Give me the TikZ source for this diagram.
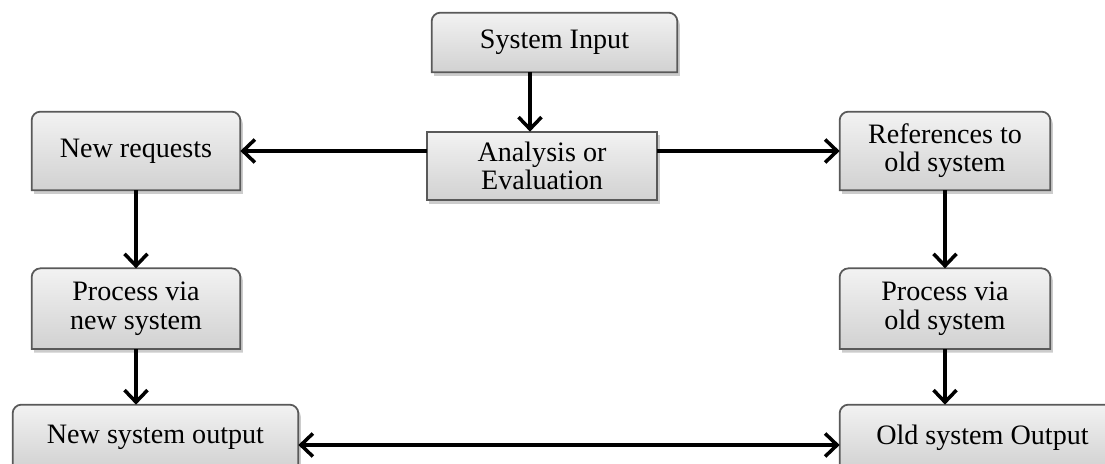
\documentclass[tikz,border=0pt]{standalone}
\usepackage{fontspec}
\setmainfont{Liberation Serif}
\usetikzlibrary{positioning}
\usetikzlibrary{arrows.meta}
\usetikzlibrary{backgrounds}
\tikzset{%
    block/.style={rectangle, align=center, inner sep=0pt, font=\fontsize{16}{16}\selectfont},
    boxfill/.style={top color=gray!10, bottom color=gray!36, draw=black!65, line width=1pt},
    boxshadow/.style={fill=black!40, opacity=0.5, transform canvas={xshift=0.5mm, yshift=-0.7mm}},
    arrow/.style={draw, line width=2pt, -{Straight Barb[length=2.4mm, width=4.6mm]}},
    twoway/.style={draw, line width=2pt, {Straight Barb[length=2.4mm, width=4.6mm]}-{Straight Barb[length=2.4mm, width=4.6mm]}}
}

\begin{document}
\begin{tikzpicture}
		\useasboundingbox (0,0) rectangle (22.1,-9.28);

		\node[block, minimum width=4.9cm,  minimum height=1.18cm]	(sysin)		at (11.09,-0.85)	{System Input};
		\node[block, minimum width=4.6cm,  minimum height=1.36cm]	(analysis)	at (10.84,-3.32)	{Analysis or\\Evaluation};
		\node[block, minimum width=4.16cm, minimum height=1.56cm]	(newreq)	at (2.72,-3.02)		{New requests};
		\node[block, minimum width=4.2cm,  minimum height=1.56cm]	(refold)	at (18.9,-3.02)		{References to\\old system};
		\node[block, minimum width=4.16cm, minimum height=1.6cm]	(procnew)	[below=1.56 of newreq]	{Process via\\new system};
		\node[block, minimum width=4.2cm,  minimum height=1.6cm]	(procold)	[below=1.56 of refold]	{Process via\\old system};
		\node[block, minimum width=5.7cm,  minimum height=1.3cm]	(outnew)	at (3.11,-8.75)		{New system output};
		\node[block, minimum width=5.7cm,  minimum height=1.3cm]	(outold)	at (19.65,-8.75)	{Old system Output};

		% boxes behind the text
		\begin{scope}[on background layer]
			\foreach \n in {sysin,newreq,refold,procnew,procold,outnew,outold} {
				\path[boxshadow] (\n.south west) [rounded corners=5pt] -- (\n.north west) -- (\n.north east) [sharp corners] -- (\n.south east) -- cycle;
				\shade[boxfill] (\n.south west) [rounded corners=5pt] -- (\n.north west) -- (\n.north east) [sharp corners] -- (\n.south east) -- cycle;
			}
			\path[boxshadow] (analysis.south west) rectangle (analysis.north east);
			\shade[boxfill] (analysis.south west) rectangle (analysis.north east);
		\end{scope}

		\path[arrow] ([xshift=-4.9mm]sysin.south) -- ([xshift=-4.9mm]sysin.south |- analysis.north);
		\path[arrow] (analysis.west |- newreq.east) -- (newreq.east);
		\path[arrow] (analysis.east |- refold.west) -- (refold.west);
		\path[arrow] (newreq) -- (procnew);
		\path[arrow] (refold) -- (procold);
		\path[arrow] (procnew.south) -- (procnew.south |- outnew.north);
		\path[arrow] (procold.south) -- (procold.south |- outold.north);
		\path[twoway] ([yshift=-1.5mm]outnew.east) -- ([yshift=-1.5mm]outold.west);
	\end{tikzpicture}
\end{document}
